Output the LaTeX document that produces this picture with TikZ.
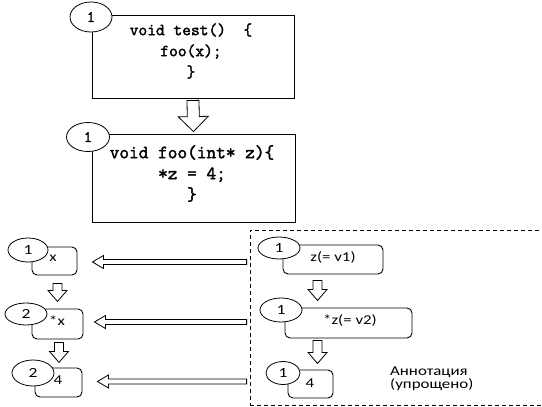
\documentclass[tikz,border=0pt]{standalone}
\usepackage{fontspec}
\usepackage{graphicx}
\setmainfont{Carlito}
\newfontfamily\codefont{Latin Modern Mono}[FakeBold=2,AutoFakeBold=2]
\usetikzlibrary{shapes.geometric,calc}

% Hollow block arrow from #1 to #2 (coordinate names):
% #3 half shaft width, #4 half head width, #5 head length
\newcommand{\hollowarrow}[5]{%
  \path ($(#2)!#5!(#1)$) coordinate (ha-base);
  \draw[arrowline] ($(#1)!#3!90:(#2)$) -- ($(ha-base)!#3!90:(#2)$)
    -- ($(ha-base)!#4!90:(#2)$) -- (#2) -- ($(ha-base)!#4!-90:(#2)$)
    -- ($(ha-base)!#3!-90:(#2)$) -- ($(#1)!#3!-90:(#2)$) -- cycle;
}
\newcommand{\wide}[1]{\scalebox{1.25}[1]{#1}}

\tikzset{
  codebox/.style={rectangle, draw, line width=0.9pt, inner sep=0pt},
  valbox/.style={rectangle, rounded corners=5pt, draw, line width=0.9pt, inner sep=0pt},
  numcirc/.style={ellipse, draw, fill=white, line width=0.8pt, inner sep=0pt},
  arrowline/.style={line width=0.8pt, fill=white, line join=miter},
  codetext/.style={font=\codefont\fontsize{#1}{21}\selectfont, align=center, inner sep=0pt},
  numtext/.style={font=\fontsize{14}{14}\selectfont, inner sep=0pt},
  codenum/.style={font=\codefont\fontsize{16}{16}\selectfont, inner sep=0pt},
  valtext/.style={font=\fontsize{13.5}{13.3}\selectfont, inner sep=0pt},
  annotbox/.style={rectangle, draw, dash pattern=on 4pt off 3pt, line width=0.8pt}
}

\begin{document}
\begin{tikzpicture}[x=1pt,y=-1pt]
\useasboundingbox (0,0) rectangle (542,407);

% code of test()
\node[codebox, minimum width=202pt, minimum height=83pt] (code1) at (193,56.5) {};
\node[codetext=17] (code1txt) at (191,51) {void test()~~\{\\foo(x);\\\}};
\node[numcirc, minimum width=42pt, minimum height=30pt] (n1) at (91,17) {};
\node[codenum] (n1txt) at (n1) {1};

% code of foo()
\node[codebox, minimum width=203pt, minimum height=88pt] (code2) at (193.5,178) {};
\node[codetext=18.8] (code2txt) at (192,173.5) {void foo(int* z)\{\\*z = 4;\\\}};
\node[numcirc, minimum width=43pt, minimum height=29pt] (n2) at (88,137) {};
\node[codenum] (n2txt) at (n2) {1};

% call arrow
\coordinate (ta1) at ($(code1.south)+(0,2)$);
\coordinate (ta2) at ($(code2.north)+(0,-2)$);
\hollowarrow{ta1}{ta2}{6pt}{15pt}{15pt}

% caller side values
\node[valbox, minimum width=45pt, minimum height=28pt] (xb1) at (54.5,261) {};
\node[numcirc, minimum width=40pt, minimum height=24pt] (c1) at (28,250) {};
\node[numtext] at (c1) {\wide{1}};
\node[valtext] (xb1txt) at (53,258) {\wide{x}};

\node[valbox, minimum width=51pt, minimum height=30pt] (xb2) at (57.5,324) {};
\node[numcirc, minimum width=42pt, minimum height=22pt] (c2) at (26,314) {};
\node[numtext] at (c2) {\wide{2}};
\node[valtext] (xb2txt) at (57,321) {\wide{*x}};

\node[valbox, minimum width=47pt, minimum height=29pt] (xb3) at (58.5,382.5) {};
\node[numcirc, minimum width=42pt, minimum height=26pt] (c3) at (33,373) {};
\node[numtext] at (c3) {\wide{2}};
\node[valtext] (xb3txt) at (58,380) {\wide{4}};

\coordinate (la1s) at ($(xb1.south)+(3,8)$);
\coordinate (la1e) at ($(xb1.south)+(3,26)$);
\hollowarrow{la1s}{la1e}{4.5pt}{9.5pt}{11pt}
\coordinate (la2s) at ($(xb2.south)+(1.5,3)$);
\coordinate (la2e) at ($(xb2.south)+(1.5,23)$);
\hollowarrow{la2s}{la2e}{4.5pt}{9.5pt}{11pt}

% annotation panel
\node[annotbox, minimum width=295pt, minimum height=175pt] (annot) at (397.5,317.5) {};

\node[valbox, minimum width=100pt, minimum height=29pt] (rb1) at (333,259.5) {};
\node[numcirc, minimum width=42pt, minimum height=22pt] (r1) at (279,248) {};
\node[numtext] at (r1) {\wide{1}};
\node[valtext] (rb1txt) at (333,257) {\wide{z(= v1)}};

\node[valbox, minimum width=127pt, minimum height=30pt] (rb2) at (348.5,323) {};
\node[numcirc, minimum width=42pt, minimum height=24pt] (r2) at (281,310) {};
\node[numtext] at (r2) {\wide{1}};
\node[valtext] (rb2txt) at (350,320) {\wide{*z(= v2)}};

\node[valbox, minimum width=45pt, minimum height=28pt] (rb3) at (310.5,384) {};
\node[numcirc, minimum width=34pt, minimum height=23pt] (r3) at (283,373) {};
\node[numtext] at (r3) {\wide{1}};
\node[valtext] (rb3txt) at (310,383) {\wide{4}};

\coordinate (ra1s) at ($(rb1.south west)+(35,6)$);
\coordinate (ra1e) at ($(rb1.south west)+(35,26)$);
\hollowarrow{ra1s}{ra1e}{4.5pt}{9.5pt}{11pt}
\coordinate (ra2s) at ($(rb2.south west)+(33,2)$);
\coordinate (ra2e) at ($(rb2.south west)+(33,25)$);
\hollowarrow{ra2s}{ra2e}{4.5pt}{9.5pt}{11pt}

\node[valtext, anchor=west, align=left] (annottxt) at (390,378.5) {\wide{Аннотация}\\\wide{(упрощено)}};

% mapping arrows from annotation to caller
\coordinate (h1e) at ($(xb1.east)+(15,1)$);
\coordinate (h1s) at ($(annot.west |- h1e)+(-3,0)$);
\hollowarrow{h1s}{h1e}{2.5pt}{6.5pt}{11pt}
\coordinate (h2e) at ($(xb2.east)+(11,-2)$);
\coordinate (h2s) at ($(annot.west |- h2e)+(-3,0)$);
\hollowarrow{h2s}{h2e}{2.5pt}{6.5pt}{11pt}
\coordinate (h3e) at ($(xb3.east)+(15,-1)$);
\coordinate (h3s) at ($(annot.west |- h3e)+(-3,0)$);
\hollowarrow{h3s}{h3e}{2.5pt}{6.5pt}{11pt}
\end{tikzpicture}
\end{document}
